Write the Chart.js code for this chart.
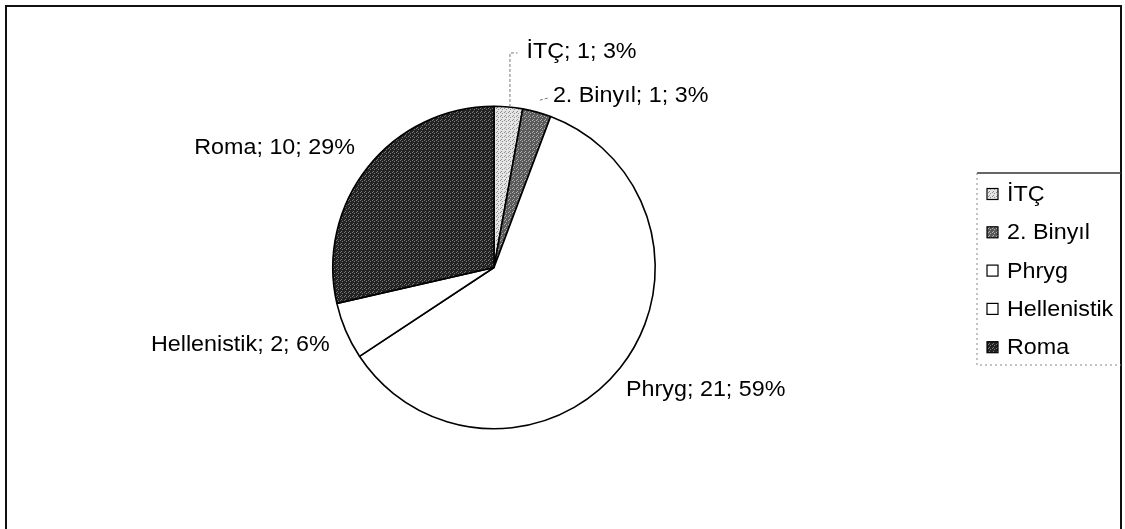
<!DOCTYPE html>
<html>
<head>
<meta charset="utf-8">
<script src="https://cdn.jsdelivr.net/npm/chart.js@4"></script>
<style>
    body { margin: 0; background: #fff; }
    #wrap { position: relative; width: 1125px; height: 529px; overflow: hidden; }
    #frame {
        position: absolute; left: 5px; top: 5px; width: 1113px; height: 600px;
        border: 2px solid #111; border-bottom: none;
    }
    canvas { position: absolute; left: 0; top: 0; }
</style>
</head>
<body>
<div id="wrap">
    <div id="frame"></div>
    <canvas id="pieChart" width="1125" height="529"></canvas>
</div>
<script>
// chart data
const periods = ["İTÇ", "2. Binyıl", "Phryg", "Hellenistik", "Roma"];
const counts = [1, 1, 21, 2, 10];
const percents = [3, 3, 59, 6, 29];

// speckled grey fills, like the printed original
function speckle(base, dot) {
    const c = document.createElement("canvas");
    c.width = 4;
    c.height = 4;
    const g = c.getContext("2d");
    g.fillStyle = base;
    g.fillRect(0, 0, 4, 4);
    g.fillStyle = dot;
    g.fillRect(0, 0, 1, 1);
    g.fillRect(2, 1, 1, 1);
    g.fillRect(1, 3, 1, 1);
    return g.createPattern(c, "repeat");
}

const FONT = "22px 'Liberation Sans', Arial, sans-serif";
const STRETCH = 1.06; // the original text is a little wider than Arial

// draw text slightly stretched horizontally
function wideText(c, text, x, y, align) {
    c.save();
    c.translate(x, y);
    c.scale(STRETCH, 1);
    c.textAlign = align;
    c.fillText(text, 0, 0);
    c.restore();
}

document.addEventListener("DOMContentLoaded", function () {
    const ctx = document.getElementById("pieChart").getContext("2d");

    const fills = [
        speckle("#e4e4e4", "#8f8f8f"),
        speckle("#5a5a5a", "#b0b0b0"),
        "#ffffff",
        "#ffffff",
        speckle("#222222", "#7a7a7a"),
    ];

    // labels "name; value; percent" placed from each arc's rim point
    const sliceLabels = {
        id: "sliceLabels",
        afterDatasetsDraw(chart, args, opts) {
            const c = chart.ctx;
            const arcs = chart.getDatasetMeta(0).data;
            c.save();
            c.font = FONT;
            c.textBaseline = "middle";
            c.fillStyle = "#000";
            arcs.forEach((arc, i) => {
                const p = arc.getProps(["x", "y", "startAngle", "endAngle", "outerRadius"], true);
                const mid = (p.startAngle + p.endAngle) / 2;
                const rx = p.x + Math.cos(mid) * p.outerRadius;
                const ry = p.y + Math.sin(mid) * p.outerRadius;
                const n = opts.nudge[i];
                const tx = rx + n[0];
                const ty = ry + n[1];
                const right = Math.cos(mid) < -0.3;
                wideText(c, periods[i] + "; " + counts[i] + "; " + percents[i] + "%", tx, ty, right ? "right" : "left");

                // small dashed leader lines for the thin slices
                if (opts.leader[i]) {
                    c.save();
                    c.strokeStyle = "#777";
                    c.lineWidth = 1;
                    c.setLineDash([3, 2]);
                    c.beginPath();
                    if (opts.leader[i] === "elbow") {
                        c.moveTo(rx + 1.5, ry);
                        c.lineTo(rx + 1.5, ty + 1);
                        c.lineTo(tx - 9, ty + 1);
                    } else {
                        c.moveTo(tx - 13, ty + 4);
                        c.lineTo(tx - 5, ty + 2);
                    }
                    c.stroke();
                    c.restore();
                }
            });
            c.restore();
        },
    };

    // boxed legend on the right
    const sideLegend = {
        id: "sideLegend",
        afterDraw(chart, args, opts) {
            const c = chart.ctx;
            const ds = chart.data.datasets[0];
            c.save();
            // box
            c.strokeStyle = "#333";
            c.lineWidth = 1.5;
            c.beginPath();
            c.moveTo(opts.left, opts.top);
            c.lineTo(opts.right, opts.top);
            c.stroke();
            c.strokeStyle = "#888";
            c.lineWidth = 1;
            c.setLineDash([2, 3]);
            c.beginPath();
            c.moveTo(opts.left, opts.top);
            c.lineTo(opts.left, opts.bottom);
            c.lineTo(opts.right, opts.bottom);
            c.stroke();
            c.setLineDash([]);

            c.font = FONT;
            c.textBaseline = "middle";
            chart.data.labels.forEach((label, i) => {
                const y = opts.firstY + i * opts.step;
                const s = opts.box;
                const x = opts.left + 10;
                c.fillStyle = ds.backgroundColor[i];
                c.fillRect(x, y - s / 2, s, s);
                c.strokeStyle = "#000";
                c.lineWidth = 1.2;
                c.strokeRect(x, y - s / 2, s, s);
                c.fillStyle = "#000";
                wideText(c, label, x + s + 9, y + 1, "left");
            });
            c.restore();
        },
    };

    new Chart(ctx, {
        type: "pie",
        data: {
            labels: periods,
            datasets: [
                {
                    data: counts,
                    backgroundColor: fills,
                    borderColor: "#000",
                    borderWidth: 1.6,
                },
            ],
        },
        options: {
            responsive: false,
            animation: false,
            devicePixelRatio: 1,
            layout: {
                padding: { left: 332, right: 469, top: 105, bottom: 99 },
            },
            plugins: {
                legend: { display: false },
                tooltip: { enabled: false },
                sliceLabels: {
                    nudge: [[18, -55], [16, -16], [6, 22], [-16, 14], [-13, -19]],
                    leader: ["elbow", "dash", null, null, null],
                },
                sideLegend: {
                    left: 977, right: 1121, top: 173, bottom: 365,
                    firstY: 194, step: 38.3, box: 11,
                },
            },
        },
        plugins: [sliceLabels, sideLegend],
    });
});
</script>
</body>
</html>
